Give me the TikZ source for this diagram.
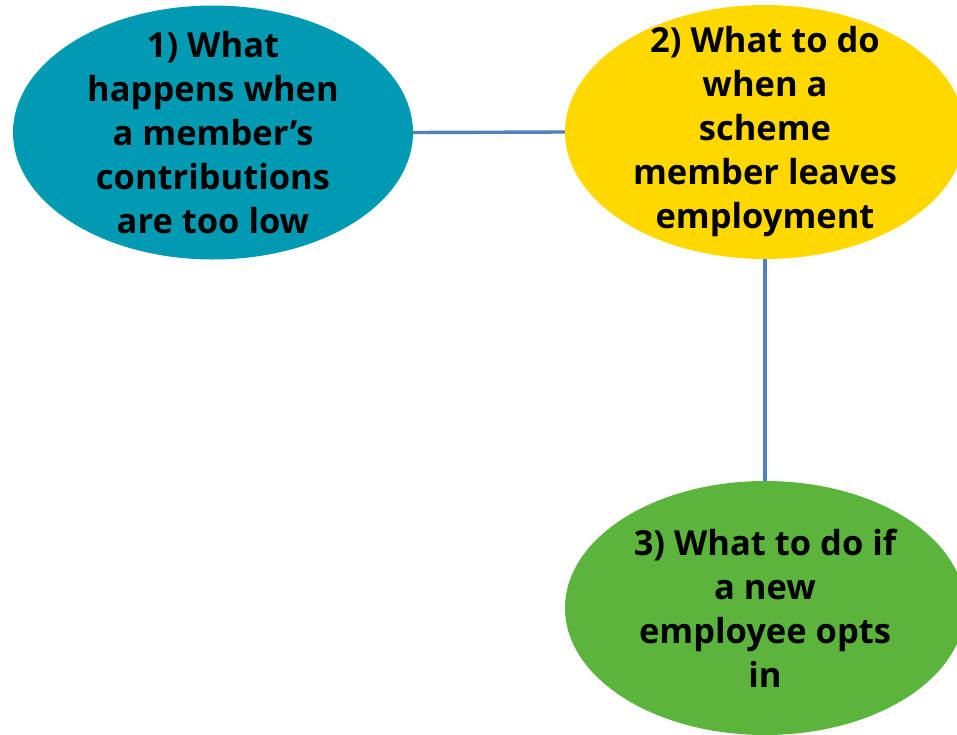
\documentclass[tikz,border=0pt]{standalone}
\usepackage{fontspec}
\setmainfont{Open Sans}
\usetikzlibrary{shapes.geometric}
\definecolor{tealfill}{HTML}{009BB2}
\definecolor{goldfill}{HTML}{FFD800}
\definecolor{greenfill}{HTML}{5BB43B}
\definecolor{linkblue}{HTML}{4F81BD}
\begin{document}
\begin{tikzpicture}[x=1pt,y=-1pt,
  bubble/.style={ellipse, draw=none, inner sep=0pt, minimum width=400pt, minimum height=254pt},
  caption/.style={align=center, font=\fontsize{34.5}{44}\selectfont\bfseries, text=black, inner sep=0pt},
  link/.style={draw=linkblue, line width=3.4pt}]
  \useasboundingbox (0,0) rectangle (957,734);
  \clip (0,0) rectangle (957,734);
  % topic bubbles
  \node[bubble, fill=tealfill] (n1) at (213,132.5) {};
  \node[bubble, fill=goldfill] (n2) at (765,132) {};
  \node[bubble, fill=greenfill] (n3) at (765,608) {};
  % connectors
  \draw[link] (n1.east) -- (n2.west);
  \draw[link] (n2.south) -- (n3.north);
  % captions
  \node[caption] (t1) at (n1) {1) What\\happens when\\a member’s\\contributions\\are too low};
  \node[caption] (t2) at (n2) {2) What to do\\when a\\scheme\\member leaves\\employment};
  \node[caption] (t3) at (n3) {3) What to do if\\a new\\employee opts\\in};
\end{tikzpicture}
\end{document}
